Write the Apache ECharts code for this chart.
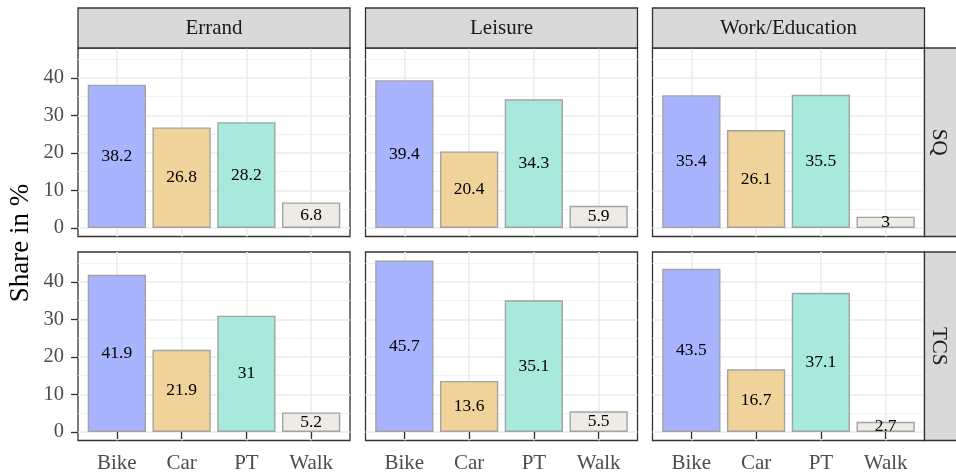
<!DOCTYPE html>
<html>
<head>
<meta charset="utf-8">
<script src="https://cdn.jsdelivr.net/npm/echarts@6/dist/echarts.min.js"></script>
<style>
html,body{margin:0;padding:0;background:#fff;}
#chart{width:956px;height:476px;}
</style>
</head>
<body>
<div id="chart"></div>
<script>
// ---- data ----
const categories = ['Bike', 'Car', 'PT', 'Walk'];
const facetCols = ['Errand', 'Leisure', 'Work/Education'];
const facetRows = ['SQ', 'TCS'];
const sqErrand = [38.2, 26.8, 28.2, 6.8];
const sqLeisure = [39.4, 20.4, 34.3, 5.9];
const sqWork = [35.4, 26.1, 35.5, 3];
const tcsErrand = [41.9, 21.9, 31, 5.2];
const tcsLeisure = [45.7, 13.6, 35.1, 5.5];
const tcsWork = [43.5, 16.7, 37.1, 2.7];
const yTicks = [0, 10, 20, 30, 40];
const yMinorTicks = [5, 15, 25, 35, 45];
const panelValues = [
  [sqErrand, sqLeisure, sqWork],
  [tcsErrand, tcsLeisure, tcsWork]
];

// ---- style / layout ----
const barColors = ['#A9B4FF', '#F0D39A', '#A7E9DD', '#EEEAE4'];
const FONT = '"Liberation Serif", "DejaVu Serif", serif';
const colLeft = [78, 365.5, 652.5];
const colWidth = 272;
const rowTop = [48, 252];
const rowHeight = 188.5;

const allVals = panelValues.flat(2);
const dMax = Math.max(...allVals), dMin = Math.min(0, ...allVals);
const pad = (dMax - dMin) * 0.05;
const yMin = dMin - pad, yMax = dMax + pad;
const xMin = 1 - 0.6, xMax = categories.length + 0.6;
const barW = colWidth / (xMax - xMin) * 0.9;

const grids = [], xAxes = [], yAxes = [], series = [], graphics = [];
let gi = 0;
for (let r = 0; r < facetRows.length; r++) {
  for (let c = 0; c < facetCols.length; c++) {
    grids.push({
      left: colLeft[c], top: rowTop[r], width: colWidth, height: rowHeight,
      show: true, backgroundColor: '#fff', borderColor: '#333333', borderWidth: 1.3,
      containLabel: false
    });
    const bottomRow = r === facetRows.length - 1;
    const leftCol = c === 0;
    xAxes.push({
      type: 'value', gridIndex: gi, min: xMin, max: xMax,
      axisLine: { show: false },
      axisTick: { show: bottomRow, customValues: categories.map((_, i) => i + 1), length: 7, lineStyle: { color: '#333', width: 1.3 } },
      axisLabel: { show: bottomRow, customValues: categories.map((_, i) => i + 1), margin: 12,
        formatter: v => categories[Math.round(v) - 1] || '', color: '#4D4D4D', fontSize: 21, fontFamily: FONT },
      splitLine: { show: true, lineStyle: { color: '#EBEBEB', width: 1.5 } }
    });
    // major y axis
    yAxes.push({
      type: 'value', gridIndex: gi, min: yMin, max: yMax,
      axisLine: { show: false },
      axisTick: { show: leftCol, customValues: yTicks, length: 7, lineStyle: { color: '#333', width: 1.3 } },
      axisLabel: { show: leftCol, customValues: yTicks, margin: 14, color: '#4D4D4D', fontSize: 20.5, fontFamily: FONT },
      splitLine: { show: true, lineStyle: { color: '#EBEBEB', width: 1.5 } }
    });
    // minor gridlines
    yAxes.push({
      type: 'value', gridIndex: gi, min: yMin, max: yMax, position: 'left',
      axisLine: { show: false },
      axisTick: { show: false, customValues: yMinorTicks },
      axisLabel: { show: false },
      splitLine: { show: true, lineStyle: { color: '#EFEFEF', width: 0.9 } }
    });
    const vals = panelValues[r][c];
    series.push({
      type: 'bar', xAxisIndex: gi, yAxisIndex: gi * 2,
      barWidth: barW,
      data: vals.map((v, i) => ({ value: [i + 1, v], itemStyle: { color: barColors[i] } })),
      itemStyle: { borderColor: '#A3A3A3', borderWidth: 1.4 },
      label: { show: true, position: 'inside', color: '#000', fontSize: 17.5, fontFamily: FONT,
        formatter: p => String(p.value[1]) },
      emphasis: { disabled: true }, silent: true, animation: false
    });
    gi++;
  }
}

// top strips
for (let c = 0; c < facetCols.length; c++) {
  graphics.push({
    type: 'rect', shape: { x: colLeft[c], y: 8, width: colWidth, height: rowTop[0] - 8 },
    style: { fill: '#D9D9D9', stroke: '#333333', lineWidth: 1.3 }, z: 10
  });
  graphics.push({
    type: 'text', x: colLeft[c] + colWidth / 2, y: 8 + (rowTop[0] - 8) / 2,
    style: { text: facetCols[c], fill: '#1A1A1A', font: '21px ' + FONT, align: 'center', verticalAlign: 'middle' }, z: 11
  });
}
// right strips
const stripX = colLeft[2] + colWidth;
for (let r = 0; r < facetRows.length; r++) {
  graphics.push({
    type: 'rect', shape: { x: stripX, y: rowTop[r], width: 40, height: rowHeight },
    style: { fill: '#D9D9D9', stroke: '#333333', lineWidth: 1.3 }, z: 10
  });
  graphics.push({
    type: 'text', x: stripX + 14, y: rowTop[r] + rowHeight / 2, rotation: -Math.PI / 2,
    style: { text: facetRows[r], fill: '#1A1A1A', font: '21px ' + FONT, align: 'center', verticalAlign: 'middle' }, z: 11
  });
}
// y title
graphics.push({
  type: 'text', x: 21, y: 243, rotation: Math.PI / 2,
  style: { text: 'Share in %', fill: '#000', font: '27px ' + FONT, align: 'center', verticalAlign: 'middle' }
});

const chart = echarts.init(document.getElementById('chart'), null, { renderer: 'canvas' });
chart.setOption({
  animation: false,
  backgroundColor: '#fff',
  grid: grids, xAxis: xAxes, yAxis: yAxes, series: series,
  graphic: graphics
});
</script>
</body>
</html>
